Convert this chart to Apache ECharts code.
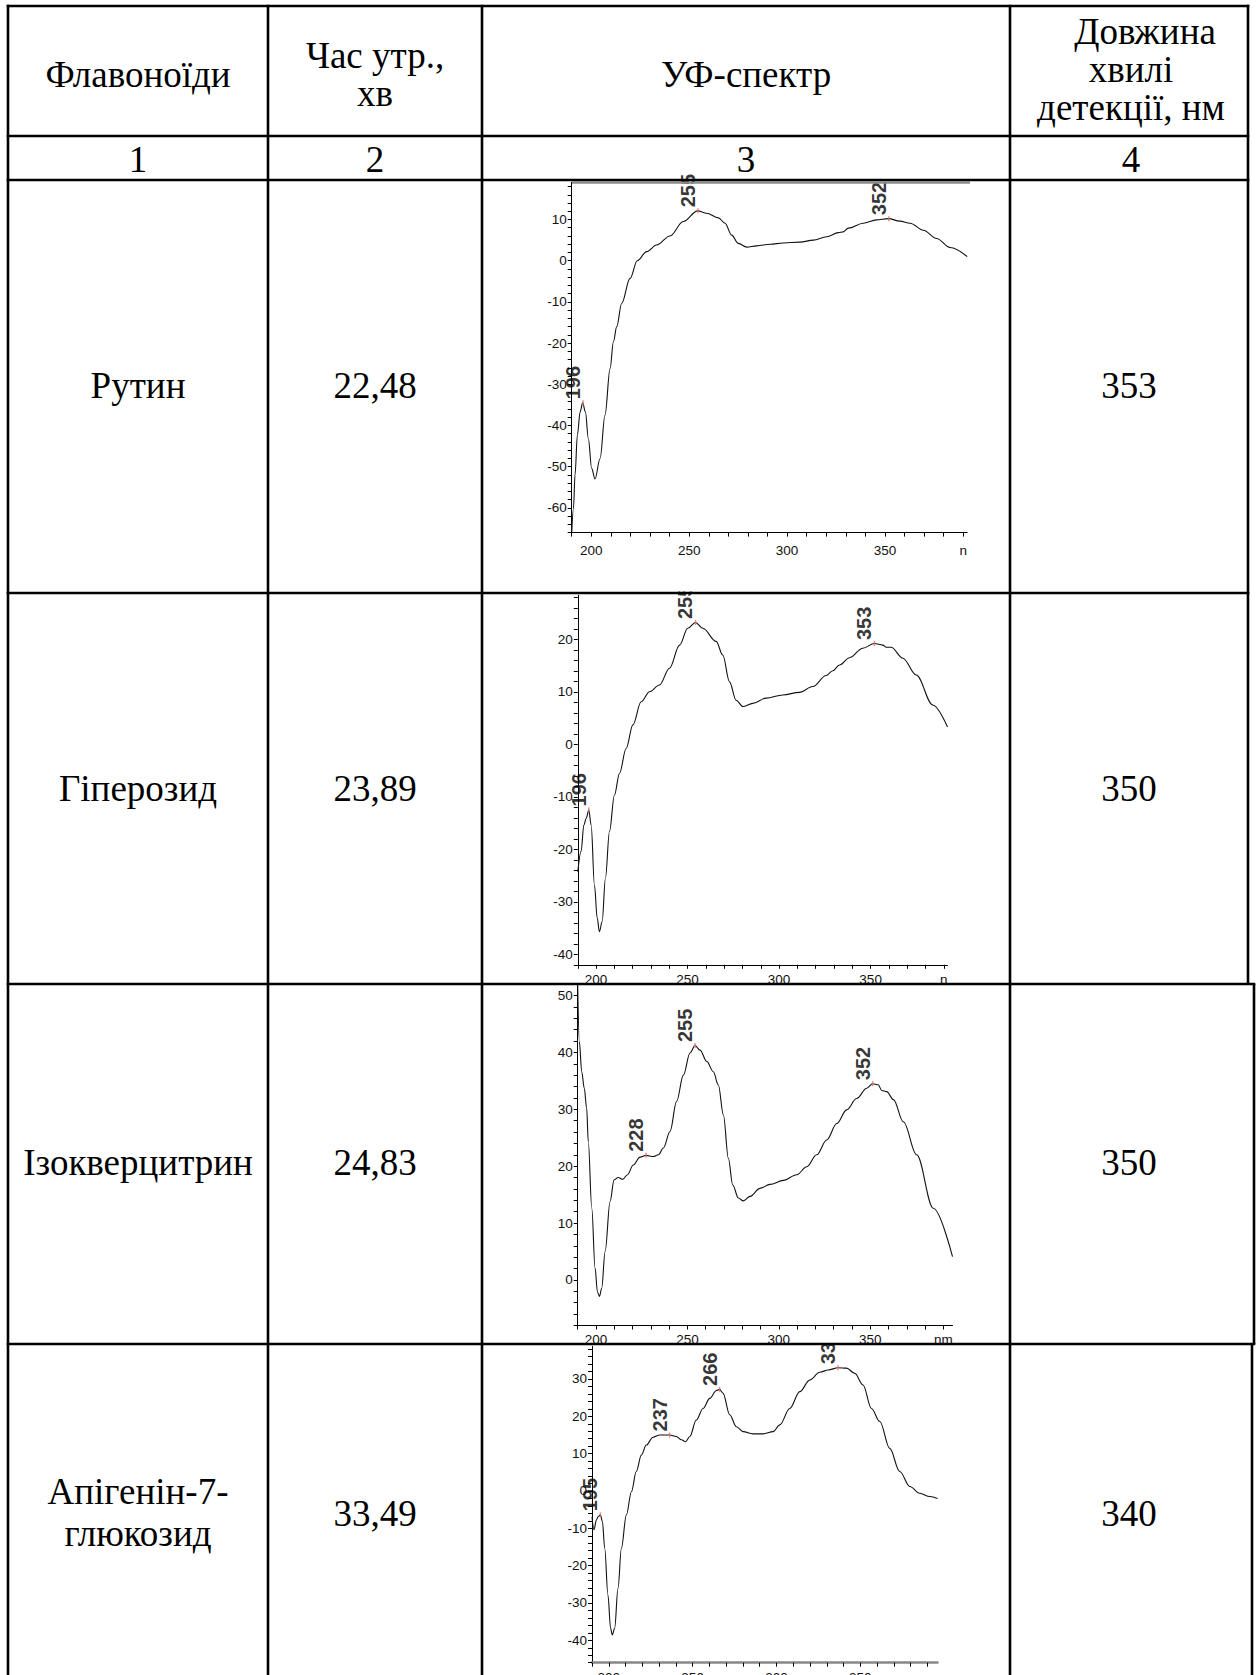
<!DOCTYPE html>
<html><head><meta charset="utf-8">
<script src="https://cdn.jsdelivr.net/npm/echarts@6/dist/echarts.min.js"></script>
<style>html,body{margin:0;padding:0;background:#fff}#c{width:1257px;height:1675px}</style>
</head><body><div id="c"></div>
<script>
// ---------- DATA ----------
const xTickValues = [200, 250, 300, 350, 390];

// Рутин
const rutinWl  = [190,190.9,191.7,192.9,194.3,195.6,197,198.5,200.2,201.9,204.5,207,209.6,211.3,213,215.5,219.8,223.5,228.3,233.4,240.2,247,254.3,258.9,264.9,268.3,271.7,275.1,279.4,284.5,291.3,298.1,306.6,313.4,320.2,326.2,328.7,331.3,338.9,345.7,351.7,357.7,362.8,369.6,376.4,383.2,392];
const rutinAbs = [-66.2,-60.2,-52,-42.3,-36.7,-34.5,-36.7,-43.2,-50.4,-53,-48,-37.5,-26.2,-19.7,-16,-10.4,-4.3,0,2.2,3.8,6,9.5,12.1,11.5,10.4,9.1,6.2,4.2,3.3,3.6,4,4.3,4.5,5,5.8,6.8,7,7.9,9.1,9.9,10.2,9.6,9.1,7.4,5.4,3.2,1];
const rutinPeakWl   = [195.8, 254.5, 352];
const rutinPeakAbs  = [-34.5, 12.1, 10.2];
const rutinPeakText = ['196', '255', '352'];
const rutinXLabels  = ['200', '250', '300', '350', 'n'];
const rutinYLabels  = [-60, -50, -40, -30, -20, -10, 0, 10];

// Гіперозид
const hypWl  = [190,191.8,193.3,194.6,196,197.3,199.1,200.6,201.8,203.3,205.1,207.3,210,212.8,216.4,220.1,224.6,229.2,234.6,240.1,245.6,250.1,254.3,258.3,265.6,269.2,272.9,276.5,280.2,285.6,292.9,302,311.1,318.4,325.7,329.3,333,338.5,345.7,352.1,356.7,358.5,361.2,367.6,374.9,384,392];
const hypAbs = [-24.3,-20.4,-15.4,-14.1,-12.5,-15.4,-26.8,-33.1,-35.7,-33.8,-25.5,-16.6,-9.7,-5.5,-0.8,3.7,8.1,10,11.3,14.5,18.9,22.1,23.2,22.1,19.6,17,11.9,8.4,7.2,7.8,8.8,9.4,9.9,11,13.1,14,15.1,16.5,18.3,19.2,18.9,18.5,18.5,16.4,13.2,7.5,3.3];
const hypPeakWl   = [196, 254.3, 352.1];
const hypPeakAbs  = [-12.5, 23.2, 19.2];
const hypPeakText = ['196', '255', '353'];
const hypXLabels  = ['200', '250', '300', '350', 'n'];
const hypYLabels  = [-40, -30, -20, -10, 0, 10, 20];

// Ізокверцитрин
const isoWl  = [190,190.9,192.2,193.6,194.9,195.8,197.7,199.5,200.8,201.9,203.1,205,207.7,209.9,212.2,214.6,217.2,220.4,224.1,227.4,231.4,234.1,236.9,240.5,244.1,247.8,251.4,254.2,256.9,260.6,264.2,266.9,269.7,272.4,274.8,277.9,280.6,284.3,289.7,295.2,302.5,309.8,315.3,320.7,326.2,331.7,337.1,342.6,348.1,351.3,354.4,356.3,359,362.7,368.1,375.4,384.5,395];
const isoAbs = [51.9,41.9,36.6,33.7,30.2,24.3,12.6,2.1,-2.1,-2.9,-1.5,5,13.8,17.6,18,17.7,18.5,20.2,21.6,21.9,21.7,22,23.2,26.1,31.4,36,39.9,41.2,40.4,38.4,36.6,34.3,29,21.4,16.7,14.4,13.9,14.7,16.1,16.8,17.5,18.5,19.9,22,24.6,27.5,29.9,31.9,33.7,34.5,34.3,33.3,33.1,31.7,27.8,22,12.6,4.1];
const isoPeakWl   = [227.4, 254.2, 351.3];
const isoPeakAbs  = [21.9, 41.2, 34.5];
const isoPeakText = ['228', '255', '352'];
const isoXLabels  = ['200', '250', '300', '350', 'nm'];
const isoYLabels  = [0, 10, 20, 30, 40, 50];

// Апігенін-7-глюкозид
const apiWl  = [190,191.2,192.6,193.6,195,196.2,197.6,199.5,201.1,202.1,203.5,205.5,207.5,210.5,213.5,216.4,219.4,222.4,226.4,230.4,236.3,240.3,243.3,245.9,248.3,252.2,256.2,260.2,264.2,266.1,268.1,272.1,276.1,280.1,286,292,298,302,307.9,313.9,319.8,325.8,330.8,336.7,341.7,346.7,351.6,356.6,361.6,367.5,373.5,379.5,385.4,391.4,396];
const apiAbs = [-6.9,-10.4,-7.8,-6.9,-6.4,-8.2,-15.4,-27.9,-36.8,-38.6,-36.8,-26.1,-15.4,-6.4,-0.2,5.2,9.6,12.3,14.4,15,15,14.6,13.7,13.2,14.6,19,22.1,24.8,26.9,27.2,26.2,20.4,17.2,15.9,15.3,15.3,15.9,17.7,22.1,26.6,29.7,31.8,32.4,33,32.9,31.5,28.4,22.1,18.6,11.4,5.2,1.2,-0.6,-1.5,-2];
const apiPeakWl   = [195, 236.3, 266.1, 336.7];
const apiPeakAbs  = [-6.4, 15, 27.2, 33];
const apiPeakText = ['195', '237', '266', '337'];
const apiXLabels  = ['200', '250', '300', '350', 'nm'];
const apiYLabels  = [-40, -30, -20, -10, 0, 10, 20, 30];

// table text
const headerTexts   = ['Флавоноїди', 'Час утр.,', 'хв', 'УФ-спектр', 'Довжина', 'хвилі', 'детекції, нм'];
const columnNumbers = ['1', '2', '3', '4'];
const flavonoidNames = ['Рутин', 'Гіперозид', 'Ізокверцитрин', 'Апігенін-7-', 'глюкозид'];
const retentionTimes = ['22,48', '23,89', '24,83', '33,49'];
const detectionWl    = ['353', '350', '350', '340'];

// ---------- LAYOUT ----------
const panels = [
  {wl: rutinWl, abs: rutinAbs, pw: rutinPeakWl, pa: rutinPeakAbs, pt: rutinPeakText, xl: rutinXLabels, yl: rutinYLabels,
   grid: {left: 571.7, top: 182.4, width: 395.5, height: 350.2}, xMax: 392, yMin: -66, yMax: 19, xMargin: 11, xz: 0, axColor: '#000', axW: 1},
  {wl: hypWl, abs: hypAbs, pw: hypPeakWl, pa: hypPeakAbs, pt: hypPeakText, xl: hypXLabels, yl: hypYLabels,
   grid: {left: 577.8, top: 595.2, width: 369.7, height: 369.6}, xMax: 392, yMin: -42, yMax: 28.4, xMargin: 8, xz: 0, axColor: '#000', axW: 1},
  {wl: isoWl, abs: isoAbs, pw: isoPeakWl, pa: isoPeakAbs, pt: isoPeakText, xl: isoXLabels, yl: isoYLabels,
   grid: {left: 577.7, top: 984.1, width: 374.8, height: 341.4}, xMax: 395, yMin: -8, yMax: 52, xMargin: 7, xz: 5, axColor: '#000', axW: 1},
  {wl: apiWl, abs: apiAbs, pw: apiPeakWl, pa: apiPeakAbs, pt: apiPeakText, xl: apiXLabels, yl: apiYLabels,
   grid: {left: 592, top: 1346.3, width: 345.5, height: 316.4}, xMax: 396, yMin: -46, yMax: 38.75, xMargin: 8, xz: 0, axColor: '#888', axW: 2.5}
];

function range(a, b, s) { const r = []; for (let v = a; v <= b + 1e-9; v += s) r.push(Math.round(v * 100) / 100); return r; }

const labelFont = 'Liberation Sans';
const peakFont = '"Liberation Sans Narrow", "Liberation Sans"';
const option = {
  animation: false,
  backgroundColor: '#fff',
  grid: panels.map(p => Object.assign({containLabel: false, outerBoundsMode: 'none'}, p.grid)),
  xAxis: panels.map((p, i) => ({
    type: 'value', gridIndex: i, min: 190, max: p.xMax, interval: 10, z: p.xz,
    axisLine: {show: true, onZero: false, lineStyle: {color: p.axColor, width: p.axW}},
    axisTick: {show: true, length: 4, customValues: range(190, 390, 10), lineStyle: {color: '#000', width: 1}},
    axisLabel: {show: true, margin: p.xMargin, fontSize: 13.5, fontFamily: labelFont, color: '#111',
      customValues: xTickValues,
      formatter: v => { const k = xTickValues.indexOf(Math.round(v)); return k < 0 ? '' : p.xl[k]; }},
    splitLine: {show: false}
  })),
  yAxis: panels.map((p, i) => ({
    type: 'value', gridIndex: i, min: p.yMin, max: p.yMax, interval: 2,
    axisLine: {show: true, onZero: false, lineStyle: {color: '#000', width: 1}},
    axisTick: {show: true, length: 4, customValues: range(p.yMin, p.yMax, 2), lineStyle: {color: '#000', width: 1}},
    axisLabel: {show: true, margin: 5, fontSize: 13.5, fontFamily: labelFont, color: '#111',
      customValues: p.yl,
      formatter: v => { const r = Math.round(v); return p.yl.indexOf(r) < 0 ? '' : String(r); }},
    splitLine: {show: false}
  })),
  series: [],
  graphic: {elements: []}
};

panels.forEach((p, i) => {
  option.series.push({
    type: 'line', xAxisIndex: i, yAxisIndex: i, z: 2, silent: true,
    data: p.wl.map((w, k) => [w, p.abs[k]]),
    symbol: 'none', showSymbol: false, smooth: 0.35, smoothMonotone: 'x',
    lineStyle: {color: '#111', width: 1.1}
  });
  option.series.push({
    type: 'scatter', xAxisIndex: i, yAxisIndex: i, z: 3, silent: true,
    data: p.pw.map((w, k) => ({value: [w, p.pa[k]], label: {formatter: p.pt[k]}})),
    symbol: 'rect', symbolSize: [1.5, 5], itemStyle: {color: '#e07070'},
    label: {show: true, position: 'top', distance: 1, rotate: 90, align: 'left', verticalAlign: 'bottom',
      fontSize: 20, fontWeight: 'bold', fontFamily: peakFont, color: '#000'}
  });
});

const G = option.graphic.elements;
function rect(x, y, w, h, z) { G.push({type: 'rect', z: z, silent: true, shape: {x, y, width: w, height: h}, style: {fill: '#fff'}}); }
function line(x1, y1, x2, y2, z, color, w) { G.push({type: 'line', z: z, silent: true, shape: {x1, y1, x2, y2}, style: {stroke: color, lineWidth: w}}); }
function text(x, y, s, size) {
  G.push({type: 'text', z: 20, silent: true, x: x, y: y,
    style: {text: s, fontSize: size, fontFamily: 'Liberation Serif', fill: '#000',
      textAlign: 'center', textVerticalAlign: 'middle', align: 'center', verticalAlign: 'middle'}});
}

// clipping strips (cropped picture edges)
rect(555, 560, 450, 31.5, 4);
rect(555, 1331, 450, 12, 4);
// grey top frame of first spectrum
line(572, 182.6, 970, 182.6, 6, '#8a8a8a', 2.4);

// table grid
const LW = 2.6, z = 15;
const hRows = [[6, 1248], [136, 1248], [180, 1248], [593, 1248], [984, 1254], [1344, 1254]];
hRows.forEach(r => line(6.7, r[0], r[1] + 1.3, r[0], z, '#000', LW));
[8, 268, 482, 1010].forEach(x => line(x, 4.7, x, 1675, z, '#000', LW));
line(1248, 4.7, 1248, 984, z, '#000', LW);
line(1254, 984, 1254, 1344, z, '#000', LW);
line(1252, 1344, 1252, 1675, z, '#000', LW);

// header text
const FS = 37;
text(138, 74, headerTexts[0], FS);
text(375, 55, headerTexts[1], FS);
text(375, 93.5, headerTexts[2], FS);
text(746, 74, headerTexts[3], FS);
text(1145, 31, headerTexts[4], FS);
text(1131, 69, headerTexts[5], FS);
text(1131, 107, headerTexts[6], FS);
[138, 375, 746, 1131].forEach((x, k) => text(x, 159, columnNumbers[k], FS));

// data rows
const rowY = [385, 788, 1162, 1513];
text(138, rowY[0], flavonoidNames[0], FS);
text(138, rowY[1], flavonoidNames[1], FS);
text(138, rowY[2], flavonoidNames[2], FS);
text(138, 1491, flavonoidNames[3], FS);
text(138, 1533, flavonoidNames[4], FS);
rowY.forEach((y, k) => { text(375, y, retentionTimes[k], FS); text(1129, y, detectionWl[k], FS); });

const chart = echarts.init(document.getElementById('c'), null, {renderer: 'svg', width: 1257, height: 1675});
chart.setOption(option);
</script></body></html>
